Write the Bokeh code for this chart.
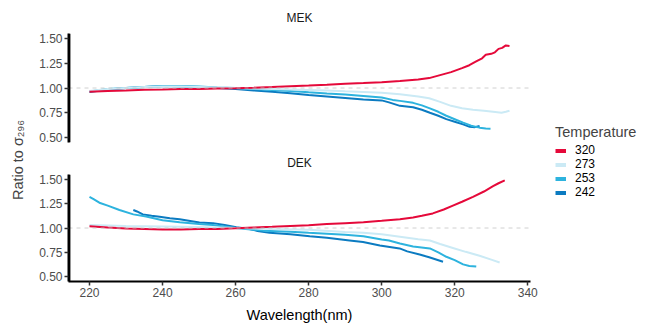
from bokeh.plotting import figure
from bokeh.models import (Span, Legend, LegendItem, Range1d, FixedTicker, PrintfTickFormatter,
                          Spacer, LinearAxis)
from bokeh.layouts import row, column
from bokeh.embed import file_html
from bokeh.resources import INLINE

temperatures = ["320", "273", "253", "242"]
colors = ["#E5093A", "#CBEAF5", "#2DB3DE", "#0B7BC1"]
x_ticks = [220, 240, 260, 280, 300, 320, 340]
y_ticks = [0.50, 0.75, 1.00, 1.25, 1.50]

# ---- MEK ----
mek_wl_320 = [220, 225, 230, 235, 240, 245, 250, 255, 260, 265, 270, 275, 280, 285, 290, 295, 300,
              305, 310, 313, 316, 319, 322, 324, 326, 327.5, 328.5, 330, 331, 332, 333, 334, 335]
mek_320 = [0.963, 0.97, 0.975, 0.983, 0.985, 0.99, 0.99, 0.995, 0.997, 1.003, 1.01, 1.018, 1.025, 1.033,
           1.043, 1.05, 1.058, 1.07, 1.085, 1.10, 1.13, 1.16, 1.2, 1.23, 1.27, 1.30, 1.335, 1.345,
           1.36, 1.395, 1.405, 1.43, 1.425]
mek_wl_273 = [220, 225, 230, 235, 240, 245, 250, 255, 260, 265, 270, 275, 280, 285, 290, 295, 300,
              305, 310, 313, 316, 319, 322, 325, 328, 330.5, 332.8, 334, 335]
mek_273 = [0.97, 0.99, 1.0, 1.01, 1.015, 1.015, 1.01, 1.005, 1.0, 0.995, 0.99, 0.985, 0.98, 0.975,
           0.967, 0.96, 0.952, 0.937, 0.915, 0.896, 0.86, 0.82, 0.795, 0.78, 0.77, 0.76, 0.75,
           0.76, 0.77]
mek_wl_253 = [220, 225, 230, 235, 240, 245, 250, 255, 260, 265, 270, 275, 280, 285, 290, 295, 300,
              303, 305, 308.6, 311, 313.2, 315.5, 317.7, 320, 322.3, 324.5, 326.8, 328.5, 329.8]
mek_253 = [0.965, 0.99, 1.0, 1.01, 1.02, 1.02, 1.015, 1.005, 1.0, 0.99, 0.98, 0.97, 0.956, 0.945,
           0.935, 0.92, 0.905, 0.88, 0.87, 0.85, 0.825, 0.795, 0.76, 0.72, 0.685, 0.65, 0.62,
           0.60, 0.592, 0.59]
mek_wl_242 = [220, 225, 230, 235, 240, 245, 250, 255, 260, 265, 270, 275, 280, 285, 290, 295, 300,
              302, 305, 308.6, 311, 313.2, 315.5, 317.7, 320, 322.3, 324.1, 325.5, 326.8]
mek_242 = [0.96, 0.985, 1.0, 1.01, 1.02, 1.015, 1.01, 1.0, 0.99, 0.975, 0.963, 0.948, 0.93, 0.915,
           0.9, 0.885, 0.875, 0.855, 0.82, 0.805, 0.78, 0.75, 0.72, 0.686, 0.66, 0.633, 0.608,
           0.605, 0.616]

# ---- DEK ----
dek_wl_320 = [220, 225, 230, 235, 240, 245, 250, 255, 260, 265, 270, 275, 280, 285, 290, 295, 300,
              305, 308.6, 311, 314, 317, 319.5, 322, 325, 328, 330.5, 332, 333.7]
dek_320 = [1.017, 1.005, 0.995, 0.99, 0.985, 0.985, 0.99, 0.99, 0.997, 1.005, 1.012, 1.02, 1.028,
           1.04, 1.05, 1.06, 1.074, 1.09, 1.108, 1.125, 1.15, 1.19, 1.23, 1.27, 1.32, 1.375,
           1.43, 1.46, 1.49]
dek_wl_273 = [220, 225, 230, 240, 250, 260, 270, 280, 290, 295, 300, 305, 310, 313.2, 316, 319.5,
              323, 326.8, 330, 332.3]
dek_273 = [1.03, 1.025, 1.02, 1.015, 1.01, 1.0, 0.99, 0.983, 0.96, 0.95, 0.935, 0.91, 0.885,
           0.872, 0.835, 0.795, 0.755, 0.714, 0.675, 0.645]
dek_wl_253 = [220, 221, 222.7, 225, 228.2, 232, 235.5, 240, 244.7, 250, 253.8, 260, 267.5, 275,
              280, 290, 295, 300, 302, 305, 308.6, 313.2, 315.5, 317.7, 320, 322.3, 324, 325.9]
dek_253 = [1.32, 1.30, 1.26, 1.23, 1.185, 1.14, 1.118, 1.08, 1.06, 1.04, 1.03, 1.0, 0.973, 0.962,
           0.95, 0.93, 0.916, 0.882, 0.872, 0.84, 0.81, 0.79, 0.75, 0.704, 0.67, 0.626, 0.61, 0.603]
dek_wl_242 = [232, 233, 234.6, 237, 239.2, 242, 244.7, 248, 250.1, 253.8, 257, 260.2, 263.8, 266,
              269.3, 275, 280.3, 285, 291.2, 294.9, 299.5, 302.2, 304.9, 307, 310.4, 313, 316.8]
dek_242 = [1.185, 1.17, 1.14, 1.125, 1.115, 1.10, 1.09, 1.07, 1.057, 1.05, 1.03, 1.007, 0.99,
           0.97, 0.95, 0.935, 0.916, 0.9, 0.872, 0.855, 0.82, 0.805, 0.79, 0.76, 0.727, 0.70, 0.653]

mek = [(mek_wl_320, mek_320), (mek_wl_273, mek_273), (mek_wl_253, mek_253), (mek_wl_242, mek_242)]
dek = [(dek_wl_320, dek_320), (dek_wl_273, dek_273), (dek_wl_253, dek_253), (dek_wl_242, dek_242)]

FONT = "Liberation Sans"
X_RANGE = (214.25, 340.75)
Y_RANGE = (0.45, 1.55)


def style_axis(ax):
    ax.axis_line_color = "black"
    ax.axis_line_width = 2
    ax.major_tick_line_color = "#333333"
    ax.major_tick_line_width = 1.5
    ax.major_tick_out = 4
    ax.major_tick_in = 0
    ax.minor_tick_line_color = None
    ax.major_label_text_font = FONT
    ax.major_label_text_font_size = "12px"
    ax.major_label_text_color = "#4D4D4D"
    ax.major_label_standoff = 2


def panel(name, series, height, b_top, b_bottom, show_x, title_standoff):
    p = figure(width=510, height=height, output_backend="svg", toolbar_location=None,
               x_range=Range1d(*X_RANGE), y_range=Range1d(*Y_RANGE),
               min_border_left=38, min_border_right=10,
               min_border_top=b_top, min_border_bottom=b_bottom,
               x_axis_location=None, y_axis_location=None,
               title=name)
    p.title.text_font = FONT
    p.title.text_font_size = "12px"
    p.title.text_font_style = "normal"
    p.title.text_color = "#1A1A1A"
    p.title.align = "center"
    p.title.standoff = title_standoff
    p.outline_line_color = None
    p.add_layout(Span(location=1.0, dimension="width", line_color="#C4C4C4",
                      line_width=0.8, line_dash="4 4"))
    for (wl, vals), col in zip(reversed(series), reversed(colors)):
        p.line(wl, vals, line_color=col, line_width=2)
    yax = LinearAxis(ticker=FixedTicker(ticks=y_ticks),
                     formatter=PrintfTickFormatter(format="%.2f"))
    style_axis(yax)
    p.add_layout(yax, "left")
    # y rule drawn just inside the frame edge
    p.add_layout(Span(location=X_RANGE[0] + 0.25, dimension="height", line_color="black",
                      line_width=2, level="overlay"))
    if show_x:
        xax = LinearAxis(ticker=FixedTicker(ticks=x_ticks), axis_label="Wavelength(nm)")
        style_axis(xax)
        xax.axis_label_text_font = FONT
        xax.axis_label_text_font_size = "14.5px"
        xax.axis_label_text_font_style = "normal"
        xax.axis_label_text_color = "black"
        xax.axis_label_standoff = 7
        p.add_layout(xax, "below")
    p.grid.visible = False
    return p


# frames at x 68..530, MEK y 33..142, DEK y 174..283
p1 = panel("MEK", mek, 147, 33, 5, False, 17)
p2 = panel("DEK", dek, 178, 27, 42, True, 10)

# shared y label
lab = figure(width=22, height=325, output_backend="svg", toolbar_location=None,
             x_axis_location=None, y_axis_location=None, min_border=0,
             min_border_bottom=6,
             title="Ratio to σ₂₉₆", title_location="left")
lab.title.text_font = FONT
lab.title.text_font_size = "14.5px"
lab.title.text_font_style = "normal"
lab.title.align = "center"
lab.outline_line_color = None
lab.grid.visible = False
lab.border_fill_alpha = 0
lab.background_fill_alpha = 0

# legend
lg = figure(width=108, height=325, output_backend="svg", toolbar_location=None,
            x_axis_location=None, y_axis_location=None, min_border=0,
            x_range=Range1d(0, 1), y_range=Range1d(0, 1))
lg.outline_line_color = None
lg.grid.visible = False
nan = float("nan")
items = []
for t, c in zip(temperatures, colors):
    r = lg.line(x=[nan], y=[nan], line_color=c, line_width=4)
    items.append(LegendItem(label=t, renderers=[r]))
legend = Legend(items=items, title="Temperature", location=(15, 120))
legend.title_text_font = FONT
legend.title_text_font_size = "14.5px"
legend.title_text_font_style = "normal"
legend.title_standoff = 3
legend.label_text_font = FONT
legend.label_text_font_size = "12px"
legend.label_text_color = "black"
legend.label_text_line_height = 0.85
legend.label_height = 11
legend.glyph_height = 11
legend.glyph_width = 11
legend.label_standoff = 9
legend.spacing = 0
legend.padding = 0
legend.margin = 0
legend.border_line_color = None
legend.background_fill_alpha = 0
lg.add_layout(legend)

layout = row(Spacer(width=8, height=325), lab, column(p1, p2), lg)
open("out.html", "w").write(file_html(layout, INLINE))
